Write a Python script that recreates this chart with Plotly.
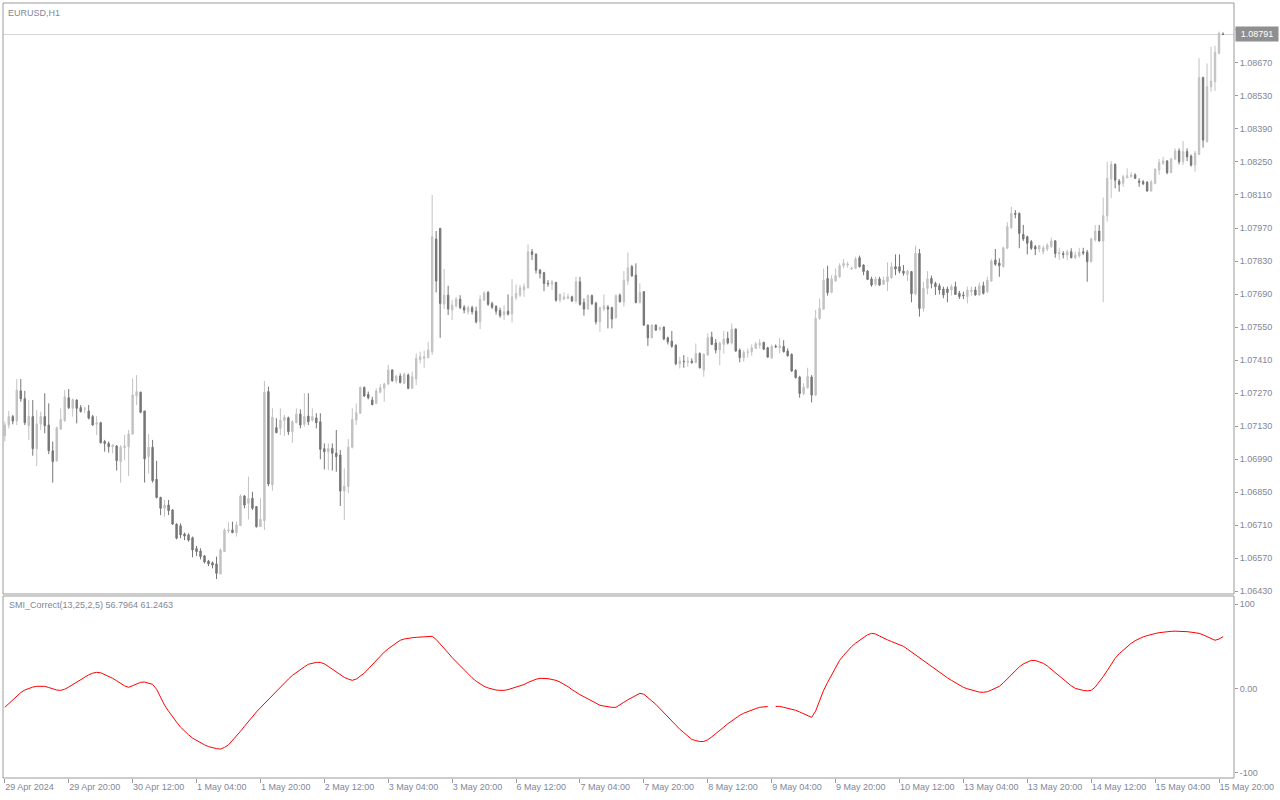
import plotly.graph_objects as go

# ---------------- data (EURUSD H1) ----------------
open_ = [
    1.07088, 1.07134, 1.07170, 1.07151, 1.07279, 1.07246, 1.07131, 1.07170, 1.07034, 1.07139,
    1.07170, 1.07134, 1.07025, 1.06982, 1.07117, 1.07153, 1.07250, 1.07205, 1.07240, 1.07208,
    1.07201, 1.07194, 1.07170, 1.07137, 1.07144, 1.07064, 1.07056, 1.07042, 1.07045, 1.06979,
    1.07038, 1.07042, 1.07096, 1.07257, 1.07273, 1.07194, 1.07000, 1.07040, 1.06904, 1.06827,
    1.06781, 1.06795, 1.06774, 1.06714, 1.06707, 1.06672, 1.06668, 1.06656, 1.06610, 1.06600,
    1.06579, 1.06557, 1.06550, 1.06545, 1.06502, 1.06597, 1.06685, 1.06689, 1.06678, 1.06707,
    1.06833, 1.06802, 1.06823, 1.06788, 1.06703, 1.06728, 1.07276, 1.06880, 1.07123, 1.07120,
    1.07153, 1.07165, 1.07106, 1.07144, 1.07181, 1.07137, 1.07172, 1.07155, 1.07164, 1.07148,
    1.07034, 1.07020, 1.07035, 1.07015, 1.07007, 1.06854, 1.06873, 1.07040, 1.07155, 1.07184,
    1.07294, 1.07264, 1.07240, 1.07226, 1.07273, 1.07290, 1.07308, 1.07368, 1.07322, 1.07342,
    1.07311, 1.07346, 1.07290, 1.07330, 1.07412, 1.07417, 1.07420, 1.07445, 1.07923, 1.07968,
    1.07647, 1.07685, 1.07622, 1.07640, 1.07668, 1.07634, 1.07615, 1.07632, 1.07617, 1.07572,
    1.07664, 1.07697, 1.07649, 1.07637, 1.07620, 1.07601, 1.07617, 1.07605, 1.07674, 1.07685,
    1.07707, 1.07716, 1.07869, 1.07859, 1.07791, 1.07780, 1.07735, 1.07731, 1.07739, 1.07664,
    1.07668, 1.07671, 1.07678, 1.07660, 1.07742, 1.07654, 1.07626, 1.07683, 1.07651, 1.07572,
    1.07626, 1.07634, 1.07632, 1.07589, 1.07685, 1.07657, 1.07745, 1.07806, 1.07770, 1.07654,
    1.07700, 1.07558, 1.07504, 1.07558, 1.07541, 1.07550, 1.07504, 1.07490, 1.07473, 1.07394,
    1.07405, 1.07400, 1.07405, 1.07400, 1.07438, 1.07367, 1.07431, 1.07507, 1.07482, 1.07452,
    1.07476, 1.07502, 1.07482, 1.07541, 1.07452, 1.07420, 1.07442, 1.07445, 1.07459, 1.07473,
    1.07485, 1.07462, 1.07420, 1.07468, 1.07462, 1.07468, 1.07448, 1.07434, 1.07366, 1.07338,
    1.07268, 1.07292, 1.07338, 1.07261, 1.07586, 1.07626, 1.07756, 1.07697, 1.07745, 1.07763,
    1.07810, 1.07813, 1.07796, 1.07799, 1.07844, 1.07813, 1.07787, 1.07754, 1.07731, 1.07754,
    1.07731, 1.07742, 1.07759, 1.07806, 1.07806, 1.07787, 1.07773, 1.07785, 1.07691, 1.07862,
    1.07629, 1.07714, 1.07756, 1.07735, 1.07725, 1.07711, 1.07711, 1.07707, 1.07721, 1.07693,
    1.07686, 1.07679, 1.07700, 1.07707, 1.07686, 1.07725, 1.07700, 1.07745, 1.07834, 1.07821,
    1.07806, 1.07884, 1.07971, 1.08032, 1.08032, 1.07943, 1.07933, 1.07912, 1.07891, 1.07881,
    1.07869, 1.07881, 1.07891, 1.07915, 1.07861, 1.07862, 1.07855, 1.07869, 1.07844, 1.07852,
    1.07869, 1.07867, 1.07827, 1.07919, 1.07957, 1.07915, 1.08022, 1.08178, 1.08240, 1.08169,
    1.08159, 1.08183, 1.08188, 1.08195, 1.08169, 1.08166, 1.08164, 1.08127, 1.08159, 1.08216,
    1.08244, 1.08254, 1.08205, 1.08263, 1.08297, 1.08251, 1.08294, 1.08275, 1.08237, 1.08282,
    1.08608, 1.08336, 1.08569, 1.08591, 1.08711, 1.08793,
]
high = [
    1.07148, 1.07194, 1.07177, 1.07329, 1.07329, 1.07279, 1.07240, 1.07240, 1.07198, 1.07191,
    1.07269, 1.07226, 1.07064, 1.07127, 1.07205, 1.07283, 1.07287, 1.07247, 1.07243, 1.07219,
    1.07212, 1.07219, 1.07177, 1.07172, 1.07148, 1.07071, 1.07064, 1.07052, 1.07049, 1.07049,
    1.07092, 1.07113, 1.07332, 1.07346, 1.07276, 1.07194, 1.07096, 1.07071, 1.06982, 1.06830,
    1.06816, 1.06816, 1.06777, 1.06717, 1.06717, 1.06678, 1.06675, 1.06661, 1.06621, 1.06611,
    1.06583, 1.06562, 1.06555, 1.06576, 1.06611, 1.06696, 1.06721, 1.06724, 1.06724, 1.06840,
    1.06837, 1.06915, 1.06851, 1.06788, 1.06823, 1.07321, 1.07297, 1.07205, 1.07163, 1.07205,
    1.07177, 1.07170, 1.07155, 1.07205, 1.07201, 1.07269, 1.07269, 1.07205, 1.07184, 1.07184,
    1.07056, 1.07056, 1.07056, 1.07113, 1.07028, 1.06950, 1.07075, 1.07205, 1.07226, 1.07297,
    1.07297, 1.07276, 1.07254, 1.07290, 1.07308, 1.07314, 1.07389, 1.07370, 1.07346, 1.07353,
    1.07356, 1.07353, 1.07361, 1.07438, 1.07445, 1.07449, 1.07487, 1.08110, 1.07957, 1.07971,
    1.07796, 1.07725, 1.07664, 1.07677, 1.07685, 1.07643, 1.07640, 1.07640, 1.07636, 1.07685,
    1.07702, 1.07702, 1.07657, 1.07643, 1.07632, 1.07643, 1.07688, 1.07753, 1.07731, 1.07728,
    1.07735, 1.07900, 1.07881, 1.07862, 1.07796, 1.07784, 1.07749, 1.07749, 1.07742, 1.07692,
    1.07697, 1.07692, 1.07683, 1.07763, 1.07763, 1.07671, 1.07688, 1.07688, 1.07657, 1.07636,
    1.07688, 1.07643, 1.07636, 1.07688, 1.07692, 1.07787, 1.07866, 1.07813, 1.07820, 1.07735,
    1.07702, 1.07561, 1.07561, 1.07561, 1.07551, 1.07552, 1.07509, 1.07533, 1.07476, 1.07424,
    1.07431, 1.07424, 1.07417, 1.07480, 1.07442, 1.07438, 1.07523, 1.07530, 1.07499, 1.07487,
    1.07533, 1.07530, 1.07565, 1.07544, 1.07459, 1.07452, 1.07459, 1.07476, 1.07487, 1.07499,
    1.07487, 1.07466, 1.07476, 1.07476, 1.07504, 1.07494, 1.07459, 1.07438, 1.07371, 1.07343,
    1.07311, 1.07377, 1.07346, 1.07622, 1.07671, 1.07798, 1.07810, 1.07770, 1.07799, 1.07820,
    1.07838, 1.07827, 1.07806, 1.07848, 1.07853, 1.07816, 1.07792, 1.07763, 1.07763, 1.07763,
    1.07763, 1.07824, 1.07824, 1.07858, 1.07858, 1.07813, 1.07792, 1.07787, 1.07895, 1.07881,
    1.07742, 1.07787, 1.07768, 1.07742, 1.07735, 1.07721, 1.07721, 1.07731, 1.07742, 1.07703,
    1.07700, 1.07721, 1.07721, 1.07721, 1.07739, 1.07742, 1.07763, 1.07838, 1.07881, 1.07841,
    1.07891, 1.07994, 1.08060, 1.08046, 1.08036, 1.07983, 1.07937, 1.07919, 1.07898, 1.07898,
    1.07895, 1.07905, 1.07929, 1.07919, 1.07886, 1.07872, 1.07877, 1.07884, 1.07869, 1.07886,
    1.07886, 1.07877, 1.07929, 1.07983, 1.07983, 1.08099, 1.08251, 1.08254, 1.08244, 1.08178,
    1.08195, 1.08223, 1.08206, 1.08202, 1.08181, 1.08173, 1.08169, 1.08173, 1.08223, 1.08263,
    1.08272, 1.08258, 1.08268, 1.08308, 1.08308, 1.08339, 1.08308, 1.08282, 1.08297, 1.08690,
    1.08612, 1.08668, 1.08739, 1.08743, 1.08803, 1.08800,
]
low = [
    1.07064, 1.07120, 1.07137, 1.07134, 1.07233, 1.07134, 1.07071, 1.07004, 1.06960, 1.07113,
    1.07099, 1.07011, 1.06890, 1.06979, 1.07113, 1.07148, 1.07202, 1.07170, 1.07141, 1.07187,
    1.07184, 1.07158, 1.07131, 1.07092, 1.07056, 1.07021, 1.07017, 1.07014, 1.06941, 1.06890,
    1.06986, 1.06918, 1.07092, 1.07219, 1.07184, 1.06890, 1.06929, 1.06890, 1.06823, 1.06752,
    1.06745, 1.06752, 1.06710, 1.06649, 1.06654, 1.06646, 1.06639, 1.06573, 1.06579, 1.06564,
    1.06547, 1.06536, 1.06526, 1.06481, 1.06502, 1.06597, 1.06675, 1.06675, 1.06661, 1.06707,
    1.06781, 1.06734, 1.06774, 1.06699, 1.06703, 1.06689, 1.06875, 1.06856, 1.07099, 1.07092,
    1.07088, 1.07092, 1.07059, 1.07141, 1.07120, 1.07127, 1.07134, 1.07148, 1.07120, 1.06989,
    1.06946, 1.06943, 1.06941, 1.06936, 1.06791, 1.06731, 1.06844, 1.07035, 1.07134, 1.07181,
    1.07254, 1.07243, 1.07219, 1.07223, 1.07269, 1.07233, 1.07304, 1.07318, 1.07311, 1.07311,
    1.07308, 1.07286, 1.07289, 1.07304, 1.07396, 1.07377, 1.07417, 1.07431, 1.07697, 1.07504,
    1.07626, 1.07601, 1.07579, 1.07632, 1.07626, 1.07608, 1.07603, 1.07603, 1.07565, 1.07541,
    1.07660, 1.07640, 1.07626, 1.07603, 1.07589, 1.07579, 1.07598, 1.07569, 1.07664, 1.07678,
    1.07678, 1.07714, 1.07834, 1.07777, 1.07756, 1.07702, 1.07721, 1.07707, 1.07657, 1.07654,
    1.07664, 1.07668, 1.07657, 1.07650, 1.07640, 1.07598, 1.07622, 1.07643, 1.07561, 1.07530,
    1.07617, 1.07544, 1.07544, 1.07586, 1.07654, 1.07636, 1.07728, 1.07763, 1.07650, 1.07650,
    1.07555, 1.07470, 1.07502, 1.07533, 1.07533, 1.07494, 1.07476, 1.07462, 1.07388, 1.07374,
    1.07377, 1.07381, 1.07396, 1.07396, 1.07374, 1.07339, 1.07428, 1.07473, 1.07438, 1.07388,
    1.07438, 1.07476, 1.07476, 1.07445, 1.07400, 1.07403, 1.07420, 1.07428, 1.07456, 1.07459,
    1.07452, 1.07420, 1.07414, 1.07462, 1.07438, 1.07442, 1.07424, 1.07360, 1.07332, 1.07250,
    1.07261, 1.07289, 1.07230, 1.07258, 1.07579, 1.07622, 1.07683, 1.07693, 1.07742, 1.07759,
    1.07799, 1.07802, 1.07792, 1.07796, 1.07802, 1.07770, 1.07749, 1.07721, 1.07725, 1.07725,
    1.07728, 1.07703, 1.07754, 1.07770, 1.07778, 1.07768, 1.07745, 1.07655, 1.07686, 1.07594,
    1.07615, 1.07688, 1.07714, 1.07686, 1.07688, 1.07672, 1.07655, 1.07683, 1.07686, 1.07669,
    1.07669, 1.07650, 1.07683, 1.07683, 1.07683, 1.07688, 1.07693, 1.07742, 1.07810, 1.07763,
    1.07802, 1.07881, 1.07966, 1.08011, 1.07884, 1.07915, 1.07858, 1.07877, 1.07855, 1.07867,
    1.07858, 1.07872, 1.07886, 1.07844, 1.07834, 1.07841, 1.07834, 1.07841, 1.07838, 1.07844,
    1.07855, 1.07742, 1.07824, 1.07912, 1.07912, 1.07655, 1.07997, 1.08096, 1.08138, 1.08124,
    1.08145, 1.08181, 1.08183, 1.08178, 1.08145, 1.08152, 1.08124, 1.08124, 1.08155, 1.08195,
    1.08237, 1.08198, 1.08202, 1.08258, 1.08240, 1.08237, 1.08254, 1.08230, 1.08209, 1.08280,
    1.08311, 1.08333, 1.08548, 1.08551, 1.08707, 1.08789,
]
close = [
    1.07134, 1.07170, 1.07151, 1.07283, 1.07246, 1.07144, 1.07172, 1.07034, 1.07139, 1.07170,
    1.07131, 1.07025, 1.06979, 1.07123, 1.07158, 1.07254, 1.07208, 1.07242, 1.07205, 1.07191,
    1.07202, 1.07163, 1.07134, 1.07144, 1.07059, 1.07056, 1.07042, 1.07049, 1.06983, 1.07040,
    1.07045, 1.07096, 1.07262, 1.07276, 1.07188, 1.06991, 1.07040, 1.06898, 1.06827, 1.06781,
    1.06795, 1.06771, 1.06714, 1.06654, 1.06668, 1.06663, 1.06646, 1.06604, 1.06597, 1.06576,
    1.06553, 1.06545, 1.06540, 1.06505, 1.06604, 1.06689, 1.06689, 1.06678, 1.06710, 1.06833,
    1.06795, 1.06823, 1.06781, 1.06703, 1.06734, 1.07273, 1.06884, 1.07167, 1.07102, 1.07155,
    1.07167, 1.07106, 1.07148, 1.07181, 1.07134, 1.07170, 1.07148, 1.07170, 1.07144, 1.07031,
    1.07021, 1.07034, 1.07014, 1.07000, 1.06854, 1.06875, 1.07040, 1.07158, 1.07187, 1.07294,
    1.07257, 1.07250, 1.07220, 1.07279, 1.07293, 1.07308, 1.07368, 1.07322, 1.07342, 1.07314,
    1.07349, 1.07290, 1.07339, 1.07417, 1.07424, 1.07424, 1.07452, 1.07933, 1.07745, 1.07650,
    1.07685, 1.07626, 1.07643, 1.07668, 1.07632, 1.07622, 1.07632, 1.07615, 1.07572, 1.07668,
    1.07694, 1.07646, 1.07634, 1.07617, 1.07598, 1.07615, 1.07605, 1.07678, 1.07692, 1.07716,
    1.07721, 1.07869, 1.07858, 1.07791, 1.07777, 1.07735, 1.07733, 1.07742, 1.07664, 1.07688,
    1.07678, 1.07679, 1.07660, 1.07742, 1.07646, 1.07626, 1.07683, 1.07649, 1.07572, 1.07632,
    1.07640, 1.07626, 1.07584, 1.07683, 1.07657, 1.07749, 1.07801, 1.07767, 1.07654, 1.07697,
    1.07558, 1.07504, 1.07558, 1.07537, 1.07547, 1.07499, 1.07487, 1.07468, 1.07394, 1.07405,
    1.07403, 1.07405, 1.07398, 1.07438, 1.07377, 1.07434, 1.07504, 1.07476, 1.07452, 1.07482,
    1.07499, 1.07482, 1.07541, 1.07448, 1.07420, 1.07442, 1.07445, 1.07462, 1.07479, 1.07482,
    1.07456, 1.07422, 1.07468, 1.07465, 1.07470, 1.07445, 1.07428, 1.07363, 1.07335, 1.07268,
    1.07295, 1.07340, 1.07261, 1.07586, 1.07629, 1.07749, 1.07696, 1.07754, 1.07768, 1.07810,
    1.07820, 1.07817, 1.07799, 1.07838, 1.07806, 1.07785, 1.07752, 1.07728, 1.07754, 1.07728,
    1.07749, 1.07763, 1.07806, 1.07796, 1.07787, 1.07778, 1.07787, 1.07691, 1.07862, 1.07629,
    1.07714, 1.07754, 1.07735, 1.07721, 1.07707, 1.07686, 1.07696, 1.07721, 1.07688, 1.07679,
    1.07683, 1.07707, 1.07707, 1.07686, 1.07725, 1.07693, 1.07749, 1.07830, 1.07816, 1.07810,
    1.07886, 1.07976, 1.08032, 1.08028, 1.07947, 1.07923, 1.07905, 1.07884, 1.07881, 1.07895,
    1.07886, 1.07898, 1.07915, 1.07862, 1.07865, 1.07857, 1.07869, 1.07844, 1.07855, 1.07867,
    1.07864, 1.07827, 1.07923, 1.07957, 1.07915, 1.08022, 1.08181, 1.08240, 1.08173, 1.08155,
    1.08188, 1.08192, 1.08195, 1.08181, 1.08164, 1.08158, 1.08127, 1.08166, 1.08220, 1.08248,
    1.08254, 1.08205, 1.08263, 1.08297, 1.08251, 1.08294, 1.08272, 1.08237, 1.08287, 1.08608,
    1.08343, 1.08569, 1.08593, 1.08715, 1.08796, 1.08791,
]

# SMI_Correct(13,25,2,5) line values per bar (None = break in the drawn line)
smi = [
    -22.5, -18, -13, -9, -5, -2, 0, 1.5, 2.4, 2.8,
    2.4, 1, -0.5, -2, -2.4, -1, 1.5, 4.5, 7.1, 10,
    13, 16, 18, 19, 18.5, 16.5, 14, 11.9, 9, 6,
    3, 1.2, 3, 5.5, 7.1, 7.5, 6.5, 4.7, -1, -10,
    -20, -27, -34, -40, -46, -51, -55, -59, -62, -65,
    -67, -69, -70.5, -71.5, -72, -70, -67, -62, -57, -51,
    -45, -39, -33, -28, -23, -18, -13, -8.3, -3.5, 1.5,
    6, 11, 15.4, 19, 22.5, 25.5, 28.5, 30, 30.8, 30.8,
    29, 26, 22.5, 19, 16, 13, 11, 9.5, 11, 14.2,
    18, 23, 28, 33.5, 39, 43, 47, 50.5, 54, 57,
    58.5, 59.5, 60, 60.5, 61, 61.5, 61.7, 61.7, 58, 53,
    47.4, 42, 36.5, 31.5, 26.5, 21.4, 17, 12.5, 8.5, 5,
    2.4, 0.5, -1, -2, -2.4, -2.4, -1.5, 0, 1.2, 2.4,
    4.5, 7, 9, 10.8, 11.9, 12, 11.5, 10.5, 9.5, 7.5,
    5, 2, -1.5, -4.7, -7.5, -10, -12.5, -15, -17.5, -20,
    -21, -22, -22.5, -22.5, -20, -16.5, -13.5, -10.7, -8, -5.9,
    -7, -10.5, -15, -19, -24, -29.5, -34.5, -39.5, -44, -48.5,
    -52.5, -57, -60.5, -62, -63, -63, -61, -57.5, -54, -50,
    -46, -42, -38.5, -35, -32, -29.5, -27.5, -25.5, -24, -22.5,
    -22, -21.5, None, -21.4, -21.4, -22.5, -23.5, -25, -26, -28,
    -30, -32, -34.4, -27, -15, -2.4, 7, 16, 25, 33.2,
    39, 44.5, 49.5, 53.5, 57, 60.5, 63.5, 65.2, 64.5, 62,
    59.3, 57.5, 55.5, 53.5, 51.5, 49.8, 46.5, 43, 40, 36.5,
    33.2, 29.5, 26, 22.5, 19, 15.4, 12.5, 9.5, 6.5, 3.5,
    1.2, -0.5, -2, -3.5, -4.5, -4.7, -4, -2, 0, 2.4,
    6.5, 11.5, 16.5, 21.4, 25.5, 29, 31.5, 33.2, 33, 31.5,
    29.7, 26.5, 22.5, 18.5, 14.2, 10.5, 6.5, 3, 0, -1.5,
    -2.4, -3, -2.4, 1.5, 7.1, 14, 21, 28.5, 35.6, 41,
    45.5, 49.5, 53.4, 56.5, 59, 61, 62.5, 64, 65, 66,
    66.8, 67.3, 67.6, 67.8, 67.8, 67.6, 67.2, 66.6, 66, 65.2,
    63.5, 61.5, 59, 57, 58.5, 61.2463,
]

time_labels = [
    "29 Apr 2024", "29 Apr 20:00", "30 Apr 12:00", "1 May 04:00", "1 May 20:00",
    "2 May 12:00", "3 May 04:00", "3 May 20:00", "6 May 12:00", "7 May 04:00",
    "7 May 20:00", "8 May 12:00", "9 May 04:00", "9 May 20:00", "10 May 12:00",
    "13 May 04:00", "13 May 20:00", "14 May 12:00", "15 May 04:00", "15 May 20:00",
]
time_label_bars = [0, 16, 32, 48, 64, 80, 96, 112, 128, 144,
                   160, 176, 192, 208, 224, 240, 256, 272, 288, 304]

price_ticks = [1.06430, 1.06570, 1.06710, 1.06850, 1.06990, 1.07130, 1.07270, 1.07410,
               1.07550, 1.07690, 1.07830, 1.07970, 1.08110, 1.08250, 1.08390, 1.08530,
               1.08670, 1.08810]
smi_ticks = [-100, 0, 100]
smi_tick_text = ["-100", "0.00", "100"]
last_price = 1.08791
symbol_title = "EURUSD,H1"
indicator_title = "SMI_Correct(13,25,2,5) 56.7964 61.2463"

# ---------------- styling ----------------
BULL = "#c2c2c2"
BEAR = "#767676"
FRAME = "#9a9a9a"
TXT = "#7f8798"
FONT = "Liberation Sans"

bars = list(range(len(close)))

fig = go.Figure()
fig.add_trace(go.Candlestick(
    x=bars, open=open_, high=high, low=low, close=close,
    increasing=dict(line=dict(color=BULL, width=1), fillcolor=BULL),
    decreasing=dict(line=dict(color=BEAR, width=1), fillcolor=BEAR),
    whiskerwidth=0, xaxis="x", yaxis="y", showlegend=False, hoverinfo="skip",
))
fig.add_trace(go.Scatter(
    x=list(range(len(smi))), y=smi, mode="lines",
    line=dict(color="#ff0000", width=1), connectgaps=False,
    xaxis="x", yaxis="y2", showlegend=False, hoverinfo="skip",
))

main_dom = [0.23742, 1.0]
ind_dom = [0.0, 0.23484]

fig.update_layout(
    width=1280, height=800,
    margin=dict(l=3, r=46, t=3, b=22),
    paper_bgcolor="white", plot_bgcolor="white",
    boxgap=0.5,
    font=dict(family=FONT, size=9, color=TXT),
    xaxis=dict(
        range=[-0.45, 307.75], anchor="y2",
        tickmode="array", tickvals=time_label_bars, ticktext=time_labels,
        ticks="outside", ticklen=4, tickcolor=FRAME,
        ticklabelposition="outside right",
        tickfont=dict(family=FONT, size=9, color=TXT),
        showgrid=False, zeroline=False, showline=False,
        rangeslider=dict(visible=False), fixedrange=True,
    ),
    yaxis=dict(
        domain=main_dom, range=[1.064173, 1.089245], anchor="x", side="right",
        tickmode="array", tickvals=price_ticks,
        ticktext=[f"{v:.5f}" for v in price_ticks],
        ticks="outside", ticklen=3, tickcolor=FRAME,
        tickfont=dict(family=FONT, size=9, color=TXT),
        showgrid=False, zeroline=False, showline=False, fixedrange=True,
    ),
    yaxis2=dict(
        domain=ind_dom, range=[-106.3, 109.5], anchor="x", side="right",
        tickmode="array", tickvals=smi_ticks, ticktext=smi_tick_text,
        ticks="outside", ticklen=3, tickcolor=FRAME,
        tickfont=dict(family=FONT, size=9, color=TXT),
        showgrid=False, zeroline=False, showline=False, fixedrange=True,
    ),
    shapes=[
        dict(type="line", xref="paper", yref="y", x0=0, x1=1, y0=last_price, y1=last_price,
             line=dict(color="#d6d6d6", width=1), layer="below"),
        dict(type="rect", xref="paper", yref="paper", x0=0, x1=1, y0=main_dom[0], y1=main_dom[1],
             line=dict(color=FRAME, width=1), fillcolor="rgba(0,0,0,0)"),
        dict(type="rect", xref="paper", yref="paper", x0=0, x1=1, y0=ind_dom[0], y1=ind_dom[1],
             line=dict(color=FRAME, width=1), fillcolor="rgba(0,0,0,0)"),
    ],
    annotations=[
        dict(text=symbol_title, xref="paper", yref="paper", x=0, y=1, xanchor="left",
             yanchor="top", xshift=3, yshift=-3, showarrow=False,
             font=dict(family=FONT, size=9, color=TXT)),
        dict(text=indicator_title, xref="paper", yref="paper", x=0, y=ind_dom[1],
             xanchor="left", yanchor="top", xshift=4, yshift=-2, showarrow=False,
             font=dict(family=FONT, size=9, color=TXT)),
        dict(text=f"{last_price:.5f}", xref="paper", yref="y", x=1, y=last_price,
             xanchor="left", yanchor="middle", xshift=1, showarrow=False,
             bgcolor="#8f8f8f", borderpad=2, width=38,
             font=dict(family=FONT, size=9, color="white")),
    ],
)

fig.write_html("out.html",
               config={"displayModeBar": False, "staticPlot": True},
               post_script="document.body.style.margin='0';document.body.style.padding='0';")
